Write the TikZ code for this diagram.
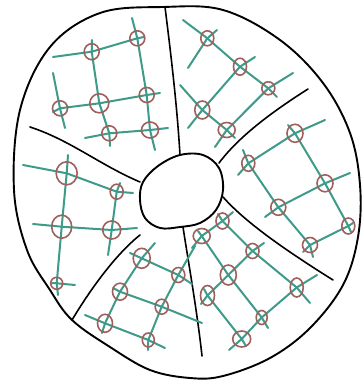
\documentclass[tikz,border=0pt]{standalone}
\usetikzlibrary{shapes.geometric}
\definecolor{tealgrid}{RGB}{62,155,137}
\definecolor{ringred}{RGB}{158,96,92}
\tikzset{
  outline/.style={line width=1.9pt, black, line join=round, line cap=round},
  divider/.style={line width=1.6pt, black, line cap=round},
  gridline/.style={line width=2pt, tealgrid, line cap=round, line join=round},
  ring/.style={ellipse, draw=ringred, line width=1.6pt, inner sep=0pt, fill=none},
}
\newcommand{\rg}[4]{\node[ring, minimum width=#3pt, minimum height=#4pt] (r#1) at (#2) {};}
\begin{document}
\begin{tikzpicture}[x=1pt,y=-1pt]
\useasboundingbox (0,0) rectangle (361,382);
\fill[white] (0,0) rectangle (361,382);

% outer boundary
\draw[outline] plot[smooth cycle, tension=0.6] coordinates {
 (163,7) (223,10) (280,40) (323,83) (350,133) (360,185) (358,237) (343,285)
 (310,328) (270,358) (223,376) (190,378) (150,370) (110,347) (72,320) (50,290)
 (27,250) (14,190) (20,110) (50,47) (100,13)};

% inner hole
\draw[outline] plot[smooth cycle, tension=0.6] coordinates {
 (180,155) (203,155) (219,168) (223,190) (216,210) (200,223) (180,227) (160,228)
 (145,218) (140,200) (143,182) (158,166)};

% dividers
\coordinate (t1) at (165,7);   \coordinate (t2) at (180,155);
\coordinate (u1) at (308,89);  \coordinate (u2) at (219,163);
\coordinate (l1) at (223,197); \coordinate (l2) at (333,280);
\coordinate (b1) at (183,227); \coordinate (b2) at (202,356);
\coordinate (w1) at (140,235); \coordinate (w2) at (72,320);
\coordinate (v1) at (30,127);  \coordinate (v2) at (140,182);
\draw[divider] (t1) .. controls (171,55) and (177,105) .. (t2);
\draw[divider] (u1) .. controls (275,110) and (240,135) .. (u2);
\draw[divider] (l1) .. controls (245,222) and (285,250) .. (l2);
\draw[divider] (b1) .. controls (188,260) and (197,310) .. (b2);
\draw[divider] (w1) .. controls (115,255) and (90,290) .. (w2);
\draw[divider] (v1) .. controls (70,140) and (100,165) .. (v2);

% ---------- grid centres ----------
% sector A
\coordinate (a1) at (91.7,51.7);  \coordinate (a2) at (137.3,38.3);
\coordinate (a3) at (60,108.3);   \coordinate (a4) at (99.3,103.3);
\coordinate (a5) at (146.7,95);   \coordinate (a6) at (109.3,133.3);
\coordinate (a7) at (150,130);
% sector B
\coordinate (b1c) at (207.3,38.3); \coordinate (b2c) at (240,66.7);
\coordinate (b3c) at (268.3,88.3); \coordinate (b4c) at (202.3,110);
\coordinate (b5c) at (226.7,130);
% sector C
\coordinate (c1) at (295,133.3);  \coordinate (c2) at (248.3,163.3);
\coordinate (c3) at (325,183.3);  \coordinate (c4) at (278.3,207.3);
\coordinate (c5) at (348.3,226);  \coordinate (c6) at (310,245);
% sector D
\coordinate (d1) at (222.5,221);  \coordinate (d2) at (201.7,236);
\coordinate (d3) at (252.5,251);  \coordinate (d4) at (228.3,275);
\coordinate (d5) at (296.7,287.5);\coordinate (d6) at (207.5,295.5);
\coordinate (d7) at (261.7,317.5);\coordinate (d8) at (241.7,339);
% sector E
\coordinate (e1) at (141.7,258.3);\coordinate (e2) at (178.3,275);
\coordinate (e3) at (120,291.7);  \coordinate (e4) at (161.7,306.7);
\coordinate (e5) at (105,323.3);  \coordinate (e6) at (148.3,340);
% sector F
\coordinate (f1) at (66.7,173.3); \coordinate (f2) at (116.7,191.7);
\coordinate (f3) at (61.7,226.7); \coordinate (f4) at (111.7,230);
\coordinate (f5) at (56.7,283.3);

% ---------- teal grid lines ----------
% A
\coordinate (aS1) at (53,57);   \coordinate (aE1) at (144,37);
\coordinate (aS2) at (53,112);  \coordinate (aE2) at (160,93);
\coordinate (aS3) at (85,138);  \coordinate (aE3) at (168,128);
\coordinate (aS4) at (53,73);   \coordinate (aE4) at (65,128);
\coordinate (aS5) at (92,40);   \coordinate (aE5) at (110,146);
\coordinate (aS6) at (132,18);  \coordinate (aE6) at (155,150);
\draw[gridline] (aS1) -- (a1) -- (a2) -- (aE1);
\draw[gridline] (aS2) -- (a3) -- (a4) -- (a5) -- (aE2);
\draw[gridline] (aS3) -- (a6) -- (a7) -- (aE3);
\draw[gridline] (aS4) -- (a3) -- (aE4);
\draw[gridline] (aS5) -- (a1) -- (a4) -- (a6) -- (aE5);
\draw[gridline] (aS6) -- (a2) -- (a5) -- (a7) -- (aE6);
% B
\coordinate (bS1) at (183,20);  \coordinate (bE1) at (277,97);
\coordinate (bS2) at (180,85);  \coordinate (bE2) at (235,138);
\coordinate (bS3) at (188,68);  \coordinate (bE3) at (217,30);
\coordinate (bS4) at (188,128); \coordinate (bE4) at (255,57);
\coordinate (bS5) at (215,147); \coordinate (bE5) at (293,73);
\draw[gridline] (bS1) -- (b1c) -- (b2c) -- (b3c) -- (bE1);
\draw[gridline] (bS2) -- (b4c) -- (b5c) -- (bE2);
\draw[gridline] (bS3) -- (b1c) -- (bE3);
\draw[gridline] (bS4) -- (b4c) -- (b2c) -- (bE4);
\draw[gridline] (bS5) -- (b5c) -- (b3c) -- (bE5);
% C
\coordinate (cS1) at (238,175); \coordinate (cE1) at (325,120);
\coordinate (cS2) at (265,217); \coordinate (cE2) at (350,173);
\coordinate (cS3) at (303,252); \coordinate (cE3) at (353,223);
\coordinate (cS4) at (288,125); \coordinate (cE4) at (351,232);
\coordinate (cS5) at (243,150); \coordinate (cE5) at (313,257);
\draw[gridline] (cS1) -- (c2) -- (c1) -- (cE1);
\draw[gridline] (cS2) -- (c4) -- (c3) -- (cE2);
\draw[gridline] (cS3) -- (c6) -- (c5) -- (cE3);
\draw[gridline] (cS4) -- (c1) -- (c3) -- (c5) -- (cE4);
\draw[gridline] (cS5) -- (c2) -- (c4) -- (c6) -- (cE5);
% D
\coordinate (dS1) at (192,248); \coordinate (dE1) at (233,212);
\coordinate (dS2) at (201,304); \coordinate (dE2) at (264,243);
\coordinate (dS3) at (229,350); \coordinate (dE3) at (317,275);
\coordinate (dS4) at (218,214); \coordinate (dE4) at (310,303);
\coordinate (dS5) at (198,231); \coordinate (dE5) at (268,328);
\coordinate (dS6) at (204,289); \coordinate (dE6) at (246,346);
\draw[gridline] (dS1) -- (d2) -- (d1) -- (dE1);
\draw[gridline] (dS2) -- (d6) -- (d4) -- (d3) -- (dE2);
\draw[gridline] (dS3) -- (d8) -- (d7) -- (d5) -- (dE3);
\draw[gridline] (dS4) -- (d1) -- (d3) -- (d5) -- (dE4);
\draw[gridline] (dS5) -- (d2) -- (d4) -- (d7) -- (dE5);
\draw[gridline] (dS6) -- (d6) -- (d8) -- (dE6);
% E
\coordinate (eS1) at (130,253); \coordinate (eE1) at (192,284);
\coordinate (eS2) at (113,288); \coordinate (eE2) at (202,323);
\coordinate (eS3) at (85,315);  \coordinate (eE3) at (165,348);
\coordinate (eS4) at (102,333); \coordinate (eE4) at (155,243);
\coordinate (eS5) at (148,350); \coordinate (eE5) at (195,246);
\draw[gridline] (eS1) -- (e1) -- (e2) -- (eE1);
\draw[gridline] (eS2) -- (e3) -- (e4) -- (eE2);
\draw[gridline] (eS3) -- (e5) -- (e6) -- (eE3);
\draw[gridline] (eS4) -- (e5) -- (e3) -- (e1) -- (eE4);
\draw[gridline] (eS5) -- (e6) -- (e4) -- (e2) -- (eE5);
% F
\coordinate (fS1) at (23,165);  \coordinate (fE1) at (133,193);
\coordinate (fS2) at (33,224);  \coordinate (fE2) at (137,228);
\coordinate (fS3) at (52,283);  \coordinate (fE3) at (75,285);
\coordinate (fS4) at (68,155);  \coordinate (fE4) at (58,295);
\coordinate (fS5) at (120,183); \coordinate (fE5) at (108,255);
\draw[gridline] (fS1) -- (f1) -- (f2) -- (fE1);
\draw[gridline] (fS2) -- (f3) -- (f4) -- (fE2);
\draw[gridline] (fS3) -- (f5) -- (fE3);
\draw[gridline] (fS4) -- (f1) -- (f3) -- (f5) -- (fE4);
\draw[gridline] (fS5) -- (f2) -- (f4) -- (fE5);

% ---------- rings ----------
\rg{a1}{a1}{15}{16} \rg{a2}{a2}{15}{15} \rg{a3}{a3}{15}{15} \rg{a4}{a4}{19}{19}
\rg{a5}{a5}{15}{15} \rg{a6}{a6}{15}{15} \rg{a7}{a7}{17}{16}
\rg{b1}{b1c}{13}{15} \rg{b2}{b2c}{13}{17} \rg{b3}{b3c}{13}{13}
\rg{b4}{b4c}{15}{18} \rg{b5}{b5c}{17}{15}
\rg{c1}{c1}{16}{18} \rg{c2}{c2}{13}{16} \rg{c3}{c3}{16}{17}
\rg{c4}{c4}{15}{16} \rg{c5}{c5}{13}{16} \rg{c6}{c6}{15}{15}
\rg{d1}{d1}{13}{16} \rg{d2}{d2}{17}{15} \rg{d3}{d3}{13}{15} \rg{d4}{d4}{16}{20}
\rg{d5}{d5}{13}{19} \rg{d6}{d6}{14}{20} \rg{d7}{d7}{11}{14} \rg{d8}{d8}{18}{16}
\rg{e1}{e1}{17}{20} \rg{e2}{e2}{13}{15} \rg{e3}{e3}{15}{17}
\rg{e4}{e4}{13}{15} \rg{e5}{e5}{15}{18} \rg{e6}{e6}{12}{14}
\rg{f1}{f1}{21}{23} \rg{f2}{f2}{13}{15} \rg{f3}{f3}{20}{23}
\rg{f4}{f4}{18}{18} \rg{f5}{f5}{12}{12}
\end{tikzpicture}
\end{document}
